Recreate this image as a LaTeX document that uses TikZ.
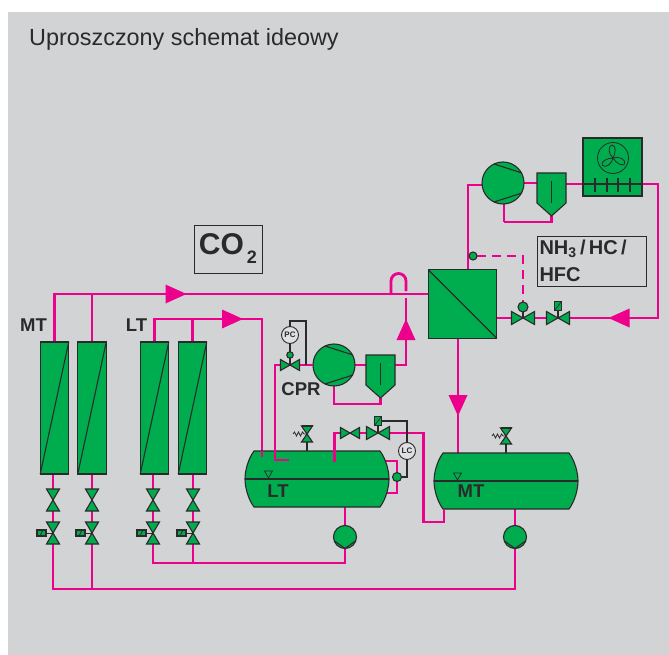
\documentclass[tikz,border=0pt]{standalone}
\usepackage{fontspec}
\setmainfont{Liberation Sans}
\usetikzlibrary{positioning}
\definecolor{panelgray}{HTML}{D1D3D4}
\definecolor{partgreen}{HTML}{00AD4E}
\definecolor{pipepink}{HTML}{EC008C}
\definecolor{inkdark}{HTML}{2B2A2B}
\pgfdeclarelayer{bg}
\pgfsetlayers{bg,main}
\tikzset{
	pipe/.style={draw=pipepink,line width=2.8pt},
	part/.style={draw=inkdark,fill=partgreen,line width=1.1pt,inner sep=0pt,outer sep=0pt},
	wire/.style={draw=inkdark,line width=1.1pt},
	hollow/.style={inner sep=0pt,outer sep=0pt},
	dial/.style={circle,draw=inkdark,fill=panelgray!70!white,line width=0.9pt,minimum size=17pt,inner sep=0pt,outer sep=0pt,text=inkdark,font=\bfseries\fontsize{8}{8}\selectfont},
	tag/.style={inner sep=0pt,outer sep=0pt,text=inkdark,font=\bfseries\fontsize{18.5}{18.5}\selectfont},
	infobox/.style={draw=inkdark,line width=0.9pt,inner sep=0pt,outer sep=0pt,text=inkdark},
	pics/bowtie/.style 2 args={code={
		\draw[part] (-#1,-#2) -- (#1,#2) -- (#1,-#2) -- (-#1,#2) -- cycle;
	}},
	pics/flowhead/.style={code={
		\fill[pipepink] (-10.5,-9.5) -- (10.5,0) -- (-10.5,9.5) -- cycle;
	}},
	pics/chords/.style={code={
		\draw[wire] (-9,-19) -- (19,-10);
		\draw[wire] (-9,19) -- (19,10);
	}},
	pics/separator/.style={code={
		\draw[part] (-14.5,-15) -- (14.5,-15) -- (14.5,15) -- (0,28) -- (-14.5,15) -- cycle;
		\draw[wire] (0,-7) -- (0,15);
	}},
	pics/vessel/.style={code={
		\draw[part] (-63,-28) -- (63,-28) .. controls (69,-20) and (72,-8) .. (72,0) .. controls (72,8) and (69,20) .. (63,28) -- (-63,28) .. controls (-69,20) and (-72,8) .. (-72,0) .. controls (-72,-8) and (-69,-20) .. (-63,-28) -- cycle;
		\draw[wire] (-72,0) -- (72,0);
		\draw[wire,line width=0.7pt] (-52.5,-8) -- (-44.5,-8) -- (-48.5,-1) -- cycle;
	}},
	pics/relief/.style={code={
		\draw[wire] (0,8) -- (0,17);
		\draw[part] (-5.5,-8) -- (5.5,-8) -- (-5.5,8) -- (5.5,8) -- cycle;
		\draw[wire,line width=2pt] (-5.5,-8.5) -- (5.5,-8.5);
		\draw[wire,line width=0.8pt] (-14,0) -- (-12.5,-2) -- (-10.5,2) -- (-8.5,-2) -- (-6.5,2) -- (-4.5,-2) -- (-3,0) -- (0,0);
	}},
	pics/pumpmark/.style={code={
		\draw[wire] (-10.5,4) -- (0,11.5) -- (10.5,4);
	}},
	pics/blade/.style={code={
		\draw[wire,line width=0.8pt] (0,0) .. controls (4,-5) and (12,-5) .. (13,-1) .. controls (13,3) and (5,3) .. (0,0);
	}},
}
\begin{document}
\begin{tikzpicture}[x=1pt,y=-1pt]
	\useasboundingbox (0,0) rectangle (669,655);
	\begin{pgfonlayer}{bg}
		\fill[panelgray] (8,12) rectangle (669,655);
	\end{pgfonlayer}
	\node[anchor=base west,inner sep=0pt,text=inkdark,font=\fontsize{23.4}{23.4}\selectfont] (title) at (29,45.5) {Uproszczony schemat ideowy};

	% main items
	\node[part,minimum size=68.5pt] (hx) at (462.5,304) {};
	\draw[wire] (hx.north west) -- (hx.south east);
	\node[part,minimum width=59pt,minimum height=58pt] (condenser) at (612.5,167) {};
	\node[circle,draw=inkdark,line width=0.8pt,minimum size=31pt,inner sep=0pt] (fan) at (613,158) {};
	\foreach \a in {90,210,330}
		\pic[rotate=\a] at (fan) {blade};
	\coordinate (condIn) at (condenser.west |- 0,184);
	\coordinate (condOut) at (condenser.east |- 0,184);
	\draw[wire] (condIn) -- (condOut);
	\foreach \x in {595,607,618,630}
		\draw[wire] (\x,178) -- (\x,192);
	\node[part,circle,minimum size=42pt] (compHT) at (503,183) {};
	\pic at (compHT) {chords};
	\node[hollow,minimum width=29pt,minimum height=30pt] (sepHT) at (551.5,188) {};
	\pic at (sepHT) {separator};
	\coordinate (sepHTtip) at (551.5,216);
	\node[part,circle,minimum size=42pt] (compLT) at (334,365) {};
	\pic at (compLT) {chords};
	\node[hollow,minimum width=29pt,minimum height=30pt] (sepLT) at (380.5,370) {};
	\pic at (sepLT) {separator};
	\coordinate (sepLTtip) at (380.5,398);
	\node[hollow,minimum width=144pt,minimum height=56pt] (vesselLT) at (317,479) {};
	\pic at (vesselLT) {vessel};
	\node[hollow,minimum width=144pt,minimum height=56pt] (vesselMT) at (506,481) {};
	\pic at (vesselMT) {vessel};
	\node[part,circle,minimum size=23pt] (pumpLT) at (345,537) {};
	\pic at (pumpLT) {pumpmark};
	\node[part,circle,minimum size=23pt] (pumpMT) at (515,537) {};
	\pic at (pumpMT) {pumpmark};

	% evaporators with their valves
	\foreach \n/\x/\v in {a/54.5/53,b/92/92,c/154.5/153,d/192.5/193}{
		\node[part,minimum width=28.5pt,minimum height=132pt] (evap\n) at (\x,408) {};
		\draw[wire] (evap\n.south west) -- (evap\n.north east);
		\coordinate (upper\n) at (\v,500);
		\coordinate (lower\n) at (\v,533);
	}

	% pipes
	\coordinate (mtline) at (391,294);
	\coordinate (ltline) at (262,319);
	\coordinate (ltdrop) at (262,457);
	\coordinate (mtret) at (515,589);
	\coordinate (ltret) at (345,563);
	\coordinate (riser) at (406,365);
	\coordinate (riserTop) at (406,298);
	\coordinate (hopEnd) at (406,291);
	\coordinate (hotBend) at (468,185);
	\coordinate (outBend) at (658,184);
	\coordinate (retBend) at (658,318);
	\coordinate (vapBend) at (275,365);
	\coordinate (vapEnd) at (289,460);
	\coordinate (suction) at (334.5,462);
	\coordinate (xover) at (423.5,433);
	\coordinate (xunder) at (423.5,522);
	\coordinate (mtfeed) at (444,509);
	\coordinate (mtinlet) at (458,453);
	\coordinate (lcTop) at (384,461);
	\coordinate (lcBot) at (387,493);
	\coordinate (loopLTa) at (334,404);
	\coordinate (loopLTb) at (380.5,404);
	\coordinate (loopHTa) at (504,222);
	\coordinate (loopHTb) at (551.5,222);
	\node[part,circle,minimum size=9pt] (float) at (397,477) {};
	\begin{pgfonlayer}{bg}
		\draw[pipe] (evapa.north) |- (hx.west |- mtline);
		\draw[pipe] (evapb.north) -- (evapb.north |- mtline);
		\draw[pipe] (evapc.north) |- (ltline) -- (ltdrop);
		\draw[pipe] (evapd.north) -- (evapd.north |- ltline);
		\draw[pipe] (evapa.south -| uppera) |- (mtret) -- (pumpMT.south);
		\draw[pipe] (evapb.south -| upperb) -- (upperb |- mtret);
		\draw[pipe] (evapc.south -| upperc) |- (ltret) -- (pumpLT.south);
		\draw[pipe] (evapd.south -| upperd) -- (upperd |- ltret);
		\draw[pipe] (mtline) -- ++(0,-13) arc[start angle=180,end angle=360,radius=7.5] -- (hopEnd);
		\draw[pipe] (sepLT.east |- riser) -- (riser) -- (riserTop);
		\draw[pipe] (compLT.east) -- (sepLT.west |- compLT);
		\draw[pipe] (compLT.south) -- (loopLTa) -- (loopLTb) -- (sepLTtip);
		\draw[pipe] (hx.north -| hotBend) -- (hotBend) -- (compHT.west |- hotBend);
		\draw[pipe] (compHT.east) -- (sepHT.west |- compHT);
		\draw[pipe] (sepHT.east |- condIn) -- (condIn);
		\draw[pipe] (loopHTa) -- (loopHTb) -- (sepHTtip);
		\draw[pipe] (compHT.south -| loopHTa) -- (loopHTa);
		\draw[pipe] (condOut) -- (outBend) -- (retBend) -- (hx.east |- retBend);
		\draw[pipe] (hx.south -| mtinlet) -- (mtinlet);
		\draw[pipe] (vesselLT.south -| pumpLT) -- (pumpLT.north);
		\draw[pipe] (vesselMT.south -| pumpMT) -- (pumpMT.north);
		\draw[pipe] (lcTop) -- (lcTop -| float) -- (lcBot -| float) -- (lcBot);
	\end{pgfonlayer}
	\draw[pipe] (ltline |- vesselLT.north) -- (ltdrop);
	\draw[pipe] (compLT.west) -- (vapBend) -- (275,460) -- (vapEnd);
	\draw[pipe] (suction) |- (xover) -- (xunder) -| (mtfeed);

	% flow arrows
	\pic at (176,294) {flowhead};
	\pic at (232.5,319) {flowhead};
	\pic[rotate=90] at (406,329.5) {flowhead};
	\pic[rotate=-90] at (458,405.5) {flowhead};
	\pic[rotate=180] at (619,318) {flowhead};

	% valves
	\foreach \n in {a,b,c,d}{
		\pic[rotate=90] at (upper\n) {bowtie={11}{6.5}};
		\pic[rotate=90] at (lower\n) {bowtie={11}{6.5}};
		\node[part,minimum width=9pt,minimum height=6pt,left=7pt of lower\n] (act\n) {};
		\draw[wire,line width=0.7pt] (act\n.east) -- (lower\n);
		\draw[wire,line width=0.7pt] (act\n.south west) ++(3,0) -- ([xshift=-3pt]act\n.north east);
	}
	\coordinate (valveCPR) at (290,365);
	\coordinate (valveSuctA) at (350,433);
	\coordinate (valveSuctB) at (378,433);
	\coordinate (valveExp) at (523,318);
	\coordinate (valveStop) at (558,318);
	\node[dial] (gaugePC) at (290,335) {PC};
	\node[part,circle,minimum size=6.5pt] (pilotPC) at (290,355) {};
	\node[dial] (gaugeLC) at (407,451) {LC};
	\node[part,minimum width=7pt,minimum height=9pt] (boxSuct) at (378,421) {};
	\node[part,minimum width=7pt,minimum height=9pt] (boxStop) at (558,306) {};
	\node[part,circle,minimum size=10pt] (pilotExp) at (523,307) {};
	\node[part,circle,minimum size=8pt] (sensor) at (473,256) {};
	\coordinate (signalPC) at (306,321);
	\coordinate (signalPCend) at (306,365);
	\coordinate (signalLC) at (407,421);
	\coordinate (dashBend) at (523,256);
	\draw[wire] (gaugePC.south) -- (pilotPC.north);
	\draw[wire] (pilotPC.south) -- (valveCPR);
	\draw[wire] (gaugePC.north) |- (signalPC) -- (signalPCend);
	\draw[wire] (boxSuct.south) -- (valveSuctB);
	\draw[wire] (boxSuct.east) -- (signalLC) -- (gaugeLC.north);
	\draw[wire] (gaugeLC.south) |- (float.east);
	\draw[wire] (boxStop.south) -- (valveStop);
	\draw[wire] (pilotExp.south) -- (valveExp);
	\draw[wire,line width=0.7pt] (boxSuct.south west) -- (boxSuct.north east);
	\draw[wire,line width=0.7pt] (boxStop.south west) -- (boxStop.north east);
	\pic at (valveCPR) {bowtie={9.5}{5.5}};
	\pic at (valveSuctA) {bowtie={9.5}{5.5}};
	\pic at (valveSuctB) {bowtie={11.5}{6.5}};
	\pic at (valveExp) {bowtie={11.5}{6.5}};
	\pic at (valveStop) {bowtie={11.5}{6.5}};
	\begin{pgfonlayer}{bg}
		\draw[pipe,dash pattern=on 9pt off 6pt] (sensor.east) -- (dashBend) -- (pilotExp.north);
	\end{pgfonlayer}
	\pic at (307,434) {relief};
	\pic at (506,436) {relief};

	% texts
	\node[tag] (labelMTe) at (33.5,325) {MT};
	\node[tag] (labelLTe) at (136.5,325) {LT};
	\node[tag] (labelCPR) at (301,389) {CPR};
	\node[tag] (labelLTv) at (278,491) {LT};
	\node[tag] (labelMTv) at (471,491) {MT};
	\node[infobox,minimum width=68pt,minimum height=48pt,font=\bfseries\fontsize{30}{30}\selectfont] (boxCO) at (228,249) {CO\raisebox{-9pt}{\fontsize{18}{18}\selectfont\,2}};
	\node[infobox,text width=104pt,minimum height=50pt,inner xsep=2.5pt,align=left,font=\bfseries\fontsize{20}{27}\selectfont] (boxNH) at (591.5,261) {NH\textsubscript{3}\,/\,HC\,/\\HFC};
\end{tikzpicture}
\end{document}
